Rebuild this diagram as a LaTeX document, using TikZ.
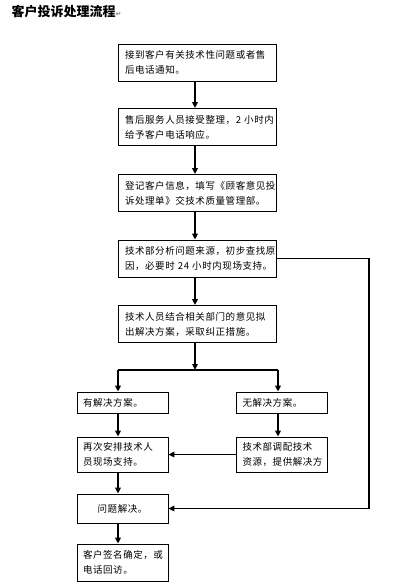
\documentclass[tikz,border=0pt]{standalone}
\usepackage{fontspec}
\setmainfont{Noto Sans CJK SC}
\newfontfamily\boxfont[LetterSpace=6]{Noto Sans CJK SC}
\newfontfamily\symfont{DejaVu Sans}
\usetikzlibrary{arrows.meta}
\begin{document}
\begin{tikzpicture}[x=1pt,y=-1pt,
  box/.style={draw,line width=0.8pt,inner ysep=0pt,align=left,
    font=\boxfont\fontsize{9.5}{15}\selectfont},
  mainbox/.style={box,inner xsep=7pt,text width=144pt,minimum height=37pt},
  sidebox/.style={box,inner xsep=6pt,text width=79pt},
  arr/.style={line width=1.6pt,-{Triangle[length=6pt,width=5.5pt]}},
  ln/.style={line width=1.6pt}]
\useasboundingbox (0,0) rectangle (413,586);
\fill[white] (0,0) rectangle (413,586);
\node[anchor=west,font=\fontsize{13}{14}\selectfont\bfseries] (title) at (8,12)
  {客户投诉处理流程{\symfont\fontsize{7}{8}\selectfont\color{gray}↵}};
\node[mainbox] (b1) at (197,62.5) {接到客户有关技术性问题或者售\\后电话通知。};
\node[mainbox] (b2) at (197,127) {\mbox{售后服务人员接受整理，2~小时内}\\给予客户电话响应。};
\node[mainbox] (b3) at (197,193) {登记客户信息，填写《顾客意见投\\诉处理单》交技术质量管理部。};
\node[mainbox] (b4) at (197,258.5) {技术部分析问题来源，初步查找原\\\mbox{因，必要时~24~小时内现场支持。}};
\node[mainbox] (b5) at (197,324) {技术人员结合相关部门的意见拟\\出解决方案，采取纠正措施。};
\node[sidebox,minimum height=21pt] (ya) at (122.5,402.5) {有解决方案。};
\node[sidebox,minimum height=21pt] (na) at (282,402.5) {无解决方案。};
\node[sidebox,minimum height=35pt] (yb) at (122.5,454.5) {再次安排技术人\\员现场支持。};
\node[sidebox,minimum height=35pt] (nb) at (282,454.5) {技术部调配技术\\资源，提供解决方};
\node[sidebox,minimum height=29pt,align=center] (ps) at (122.5,508.5) {问题解决。};
\node[sidebox,minimum height=37pt] (cf) at (122.5,562.5) {客户签名确定，或\\电话回访。};
\coordinate (mc) at (195,0);
\coordinate (lc) at (118,0);
\coordinate (rc) at (278,0);
\coordinate (rx) at (369,0);
\coordinate (sp) at (195,370);
\coordinate (spL) at (118,370);
\coordinate (spR) at (278,370);
\draw[arr] (b1.south -| mc) -- (b2.north -| mc);
\draw[arr] (b2.south -| mc) -- (b3.north -| mc);
\draw[arr] (b3.south -| mc) -- (b4.north -| mc);
\draw[arr] (b4.south -| mc) -- (b5.north -| mc);
\draw[arr] (b5.south -| mc) -- (sp);
\draw[ln] (spL) -- (spR);
\draw[arr] (spL) -- (ya.north -| lc);
\draw[arr] (spR) -- (na.north -| rc);
\draw[arr] (ya.south -| lc) -- (yb.north -| lc);
\draw[arr] (na.south -| rc) -- (nb.north -| rc);
\draw[arr] (nb.west) -- (yb.east);
\draw[arr] (yb.south -| lc) -- (ps.north -| lc);
\draw[arr] (ps.south -| lc) -- (cf.north -| lc);
\draw[arr] (b4.east) -- (b4.east -| rx) -- (ps.east -| rx) -- (ps.east);
\end{tikzpicture}
\end{document}
